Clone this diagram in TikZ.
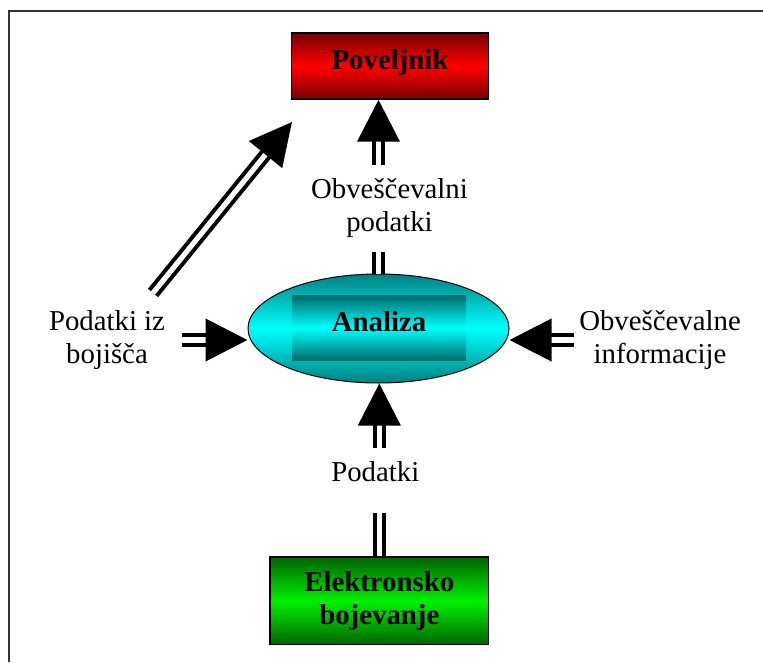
\documentclass[tikz,border=0pt]{standalone}
\usepackage{fontspec}
\setmainfont{Liberation Serif}
\usetikzlibrary{arrows.meta, shapes.geometric}
\definecolor{darkred}{RGB}{120,0,0}
\definecolor{brightred}{RGB}{255,0,0}
\definecolor{darkgreen}{RGB}{0,100,0}
\definecolor{brightgreen}{RGB}{0,240,0}
\definecolor{tealdark}{RGB}{0,128,128}
\definecolor{tealdeep}{RGB}{0,105,105}
\definecolor{aqua}{RGB}{0,255,255}

\begin{document}
\begin{tikzpicture}[
    x=0.5pt, y=-0.5pt,
    every node/.style={font=\fontsize{14.4pt}{16.5pt}\selectfont, align=center},
    box/.style={draw, rectangle, line width=0.75pt, inner sep=0pt,
      font=\fontsize{14.4pt}{16.5pt}\selectfont\bfseries},
    tag/.style={inner sep=0pt},
    dline/.style={double=white, double distance=2.6pt, line width=2pt},
    darrow/.style={dline, -{Triangle[length=21pt, width=21pt]}},
    frame/.style={line width=1pt, color=black!80},
  ]
  \useasboundingbox (0,0) rectangle (763,662);

  % Frame
  \draw[frame] (9,662) -- (9,11) -- (763,11);

  % Boxes
  \node[box, minimum width=98.5pt, text height=18.5pt, text depth=14.5pt, anchor=base,
    top color=darkred, bottom color=darkred, middle color=brightred] (P) at (390,70) {Poveljnik};
  \node[box, minimum width=109.3pt, minimum height=43.8pt,
    top color=darkgreen, bottom color=darkgreen, middle color=brightgreen] (E) at (379.3,600.9) {Elektronsko\\bojevanje};

  % Analysis ellipse
  \node[ellipse, draw, line width=0.5pt, inner sep=0pt, minimum width=130.5pt, minimum height=54.5pt,
    top color=tealdark, bottom color=tealdark, middle color=aqua] (A) at (378.5,328.5) {};
  \node[rectangle, inner sep=0pt, minimum width=87pt, text height=18pt, text depth=14.85pt, anchor=base,
    top color=tealdeep, bottom color=tealdeep, middle color=aqua,
    font=\fontsize{14.4pt}{16.5pt}\selectfont\bfseries] (Ain) at (379,331) {Analiza};

  % Side texts
  \node[tag] (L) at (107,340) {Podatki iz\\bojišča};
  \node[tag] (R) at (660,340) {Obveščevalne\\informacije};

  % Connector labels
  \node[tag, minimum height=43.5pt] (T1) at (389.5,208.5) {Obveščevalni\\podatki};
  \node[tag, text height=16.85pt, text depth=15.65pt, anchor=base] (T2) at (375.3,481.7) {Podatki};

  % Diagonal ends
  \coordinate (Lup) at (153,293);
  \coordinate (Ptip) at (292,122);

  % Up to Poveljnik
  \draw[dline] (A.north) -- (A.north |- T1.south);
  \draw[darrow] (A.north |- T1.north) -- (A.north |- P.south);
  % Up from Elektronsko bojevanje
  \draw[dline] (E.north) -- (E.north |- T2.south);
  \draw[darrow] (E.north |- T2.north) -- (E.north |- A.south);
  % Into Analiza from the sides
  \draw[darrow, shorten <=8.5pt] (L.east) -- (L.east -| A.west);
  \draw[darrow, shorten <=2.5pt] (R.west) -- (R.west -| A.east);
  % Straight to Poveljnik
  \draw[darrow] (Lup) -- (Ptip);
\end{tikzpicture}
\end{document}
